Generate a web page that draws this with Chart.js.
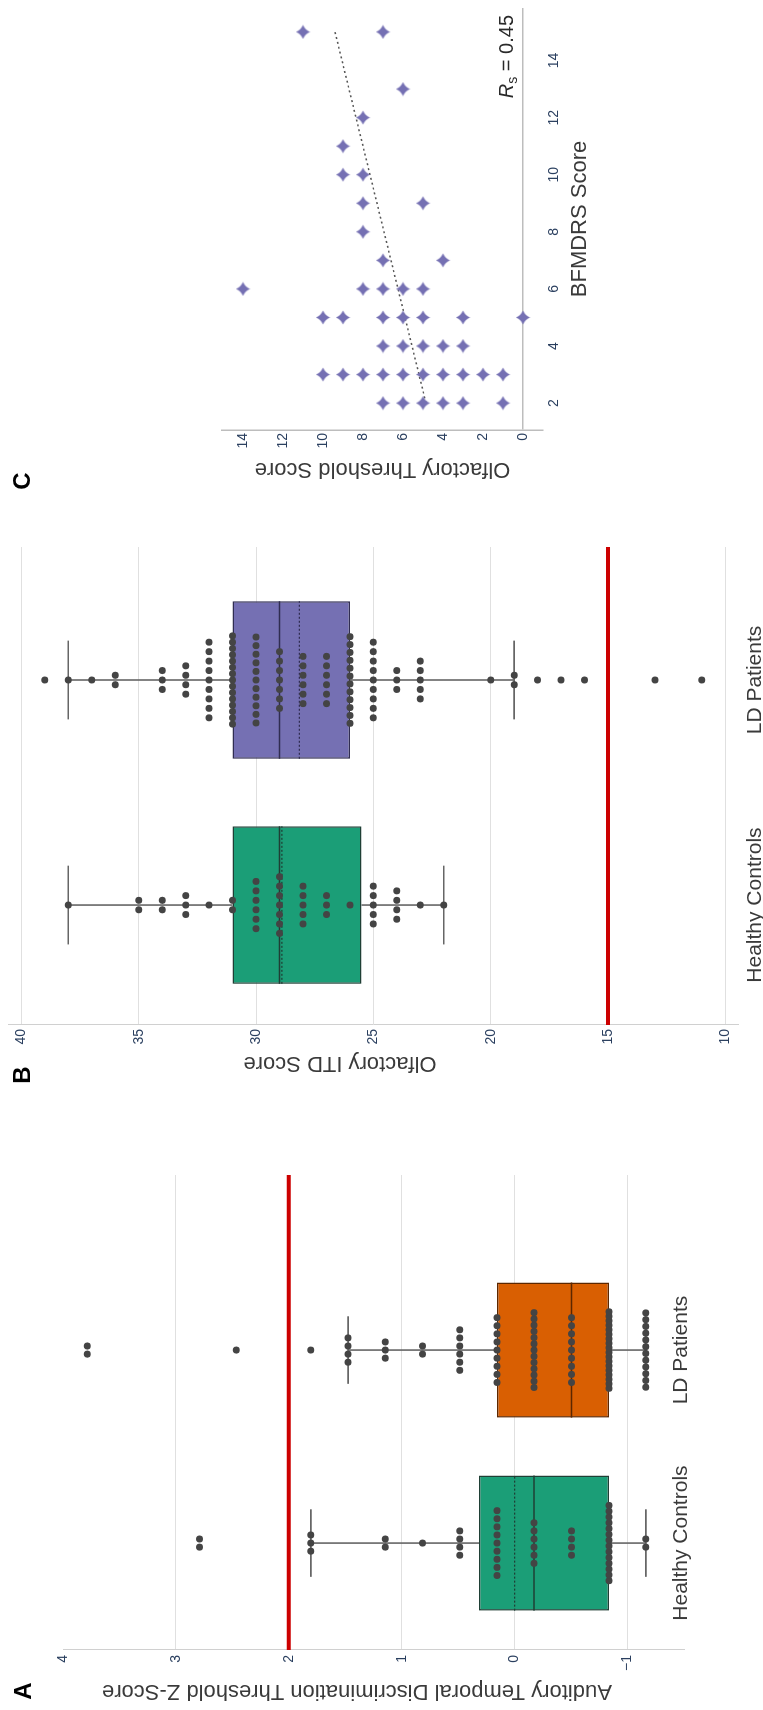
<!DOCTYPE html>
<html>
<head>
<meta charset="utf-8">
<script src="https://cdn.jsdelivr.net/npm/chart.js@4.4.0/dist/chart.umd.min.js"></script>
<style>
  html, body { margin: 0; padding: 0; background: #fff; width: 763px; height: 1710px; overflow: hidden; }
  /* the figure is laid out landscape and turned a quarter turn, like the reference */
  #figure { position: absolute; left: 0; top: 0; width: 1710px; height: 763px; background: #fff;
    transform-origin: 0 0; transform: translateY(1710px) rotate(-90deg);
    font-family: "Liberation Sans", Arial, Helvetica, sans-serif; }
  .panel { position: absolute; top: 0; height: 763px; }
  .panel canvas { display: block; }
  .letter { position: absolute; font-weight: bold; font-size: 24px; line-height: 24px; color: #000;
    transform: translate(-50%, -50%); }
  #rs { position: absolute; font-size: 20px; line-height: 20px; color: #2a2a2a; white-space: nowrap; }
  #rs sub { font-size: 14px; vertical-align: -4px; }
</style>
</head>
<body>
<div id="figure">
  <div class="panel" style="left:0;width:600px"><canvas id="chartA" width="600" height="763"></canvas></div>
  <div class="panel" style="left:600px;width:600px"><canvas id="chartB" width="600" height="763"></canvas></div>
  <div class="panel" style="left:1200px;width:510px"><canvas id="chartC" width="510" height="763"></canvas></div>
  <div class="letter" style="left:19px;top:23px">A</div>
  <div class="letter" style="left:635px;top:22px">B</div>
  <div class="letter" style="left:1229px;top:22px">C</div>
  <div id="rs" style="right:15px;top:496px"><i>R</i><sub>s</sub> = 0.45</div>
</div>
<script>
"use strict";

const groups = ['Healthy Controls', 'LD Patients'];

// A: auditory temporal discrimination threshold z-scores
const atdHealthy = [2.79, 2.79,
    1.805, 1.805, 1.805,
    1.147, 1.147,
    0.817,
    0.487, 0.487, 0.487, 0.487,
    0.157, 0.157, 0.157, 0.157, 0.157, 0.157, 0.157, 0.157, 0.157,
    -0.171, -0.171, -0.171, -0.171, -0.171, -0.171,
    -0.504, -0.504, -0.504, -0.504,
    -0.835, -0.835, -0.835, -0.835, -0.835, -0.835, -0.835, -0.835, -0.835, -0.835, -0.835, -0.835, -0.835, -0.835,
    -1.162, -1.162];
const atdLd = [3.785, 3.785,
    2.466,
    1.805,
    1.475, 1.475, 1.475, 1.475,
    1.147, 1.147, 1.147,
    0.817, 0.817,
    0.487, 0.487, 0.487, 0.487, 0.487, 0.487,
    0.157, 0.157, 0.157, 0.157, 0.157, 0.157, 0.157, 0.157, 0.157,
    -0.171, -0.171, -0.171, -0.171, -0.171, -0.171, -0.171, -0.171, -0.171, -0.171, -0.171, -0.171, -0.171,
    -0.504, -0.504, -0.504, -0.504, -0.504, -0.504, -0.504, -0.504, -0.504,
    -0.835, -0.835, -0.835, -0.835, -0.835, -0.835, -0.835, -0.835, -0.835, -0.835, -0.835, -0.835, -0.835, -0.835, -0.835, -0.835, -0.835, -0.835,
    -1.162, -1.162, -1.162, -1.162, -1.162, -1.162, -1.162, -1.162, -1.162, -1.162, -1.162, -1.162];
const atdQ1 = [-0.835, -0.835];
const atdMedian = [-0.171, -0.504];
const atdQ3 = [0.316, 0.157];
const atdMean = [0.0, null];
const atdLow = [-1.162, -1.162];
const atdHigh = [1.805, 1.475];
const atdCutoff = 2;
const atdTicks = [-1, 0, 1, 2, 3, 4];

// B: olfactory ITD scores
const itdHealthy = [38, 35, 35, 34, 34, 33, 33, 33, 32, 31, 31,
    30, 30, 30, 30, 30, 30,
    29, 29, 29, 29, 29, 29, 29,
    28, 28, 28, 28, 28,
    27, 27, 27, 26,
    25, 25, 25, 25, 25,
    24, 24, 24, 24, 23, 22];
const itdLd = [39, 38, 37, 36, 36, 34, 34, 34, 33, 33, 33, 33,
    32, 32, 32, 32, 32, 32, 32, 32, 32,
    31, 31, 31, 31, 31, 31, 31, 31, 31, 31, 31, 31, 31, 31, 31,
    30, 30, 30, 30, 30, 30, 30, 30, 30, 30, 30,
    29, 29, 29, 29, 29, 29, 29,
    28, 28, 28, 28, 28, 28,
    27, 27, 27, 27, 27, 27,
    26, 26, 26, 26, 26, 26, 26, 26, 26, 26, 26, 26,
    25, 25, 25, 25, 25, 25, 25, 25, 25,
    24, 24, 24, 23, 23, 23, 23, 23,
    20, 19, 19, 18, 17, 16, 13, 11];
const itdQ1 = [25.5, 26];
const itdMedian = [29, 29];
const itdQ3 = [31, 31];
const itdMean = [28.9, 28.15];
const itdLow = [22, 19];
const itdHigh = [38, 38];
const itdCutoff = 15;
const itdTicks = [10, 15, 20, 25, 30, 35, 40];

// C: BFMDRS score against olfactory threshold score (LD patients)
const bfmdrs = [2, 2, 2, 2, 2, 2,
    3, 3, 3, 3, 3, 3, 3, 3, 3, 3,
    4, 4, 4, 4, 4,
    5, 5, 5, 5, 5, 5, 5,
    6, 6, 6, 6, 6,
    7, 7, 8, 9, 9, 10, 10, 11, 12, 13, 15, 15];
const threshold = [7, 6, 5, 4, 3, 1,
    10, 9, 8, 7, 6, 5, 4, 3, 2, 1,
    7, 6, 5, 4, 3,
    10, 9, 7, 6, 5, 3, 0,
    14, 8, 7, 6, 5,
    7, 4, 8, 8, 5, 9, 8, 9, 8, 6, 11, 7];
const trendX = [2, 15];
const trendY = [4.85, 9.4];
const bfmdrsTicks = [2, 4, 6, 8, 10, 12, 14];
const thresholdTicks = [0, 2, 4, 6, 8, 10, 12, 14];

const TICK_COLOR = '#2a3f5f';
const TEXT_COLOR = '#3a3a3a';
const GRID_COLOR = '#e0e0e0';
const AXIS_COLOR = '#d0d0d0';
const DOT_COLOR = '#444444';
const WHISKER_COLOR = '#666666';
const CUTOFF_COLOR = '#cc0000';

Chart.defaults.font.family = '"Liberation Sans", Arial, Helvetica, sans-serif';
Chart.defaults.color = TICK_COLOR;

function fmt(v) {
    return v < 0 ? '\u2212' + Math.abs(v) : String(v);
}

// fixed axis box so the plot areas sit where the reference has them
function fixBox(size) {
    return function (scale) {
        if (scale.isHorizontal()) scale.height = size; else scale.width = size;
        scale.paddingTop = 0;
        scale.paddingBottom = 0;
        scale.paddingLeft = 0;
        scale.paddingRight = 0;
    };
}

function tickSetter(values) {
    return function (scale) {
        scale.ticks = values.map(v => ({value: v}));
    };
}

// points with the same value are spread sideways inside the box
function spread(values, center, halfWidth) {
    const counts = new Map();
    values.forEach(v => counts.set(v, (counts.get(v) || 0) + 1));
    const pts = [];
    counts.forEach((n, v) => {
        const w = halfWidth * Math.min(1, n / 10);
        for (let k = 0; k < n; k++) {
            pts.push({x: n === 1 ? center : center + w * (2 * (k + 0.5) / n - 1), y: v});
        }
    });
    return pts;
}

function lineSet(data, color, width, dash) {
    return {
        type: 'line',
        data: data,
        borderColor: color,
        borderWidth: width,
        borderDash: dash || [],
        pointRadius: 0,
        fill: false,
        spanGaps: false,
        tension: 0
    };
}

function boxPanel(id, d, L) {
    const datasets = [];
    datasets.push({
        type: 'scatter',
        data: spread(d.dots[0], 0, L.jitter).concat(spread(d.dots[1], 1, L.jitter)),
        pointRadius: 3.5,
        pointBackgroundColor: DOT_COLOR,
        pointBorderWidth: 0
    });
    groups.forEach((g, i) => {
        datasets.push(lineSet([{x: i - 0.35, y: d.median[i]}, {x: i + 0.35, y: d.median[i]}], L.edge[i], 1.6));
        if (d.mean[i] !== null) {
            datasets.push(lineSet([{x: i - 0.35, y: d.mean[i]}, {x: i + 0.35, y: d.mean[i]}], L.edge[i], 1.2, [2, 2]));
        }
    });
    datasets.push({
        type: 'bar',
        data: groups.map((g, i) => ({x: i, y: [d.q1[i], d.q3[i]]})),
        backgroundColor: L.fill,
        borderColor: L.edge,
        borderWidth: 1.5,
        borderSkipped: false,
        barPercentage: 0.7,
        categoryPercentage: 1
    });
    const whisk = [];
    groups.forEach((g, i) => {
        whisk.push({x: i, y: d.q3[i]}, {x: i, y: d.high[i]}, {x: i, y: null},
            {x: i - 0.175, y: d.high[i]}, {x: i + 0.175, y: d.high[i]}, {x: i, y: null},
            {x: i, y: d.q1[i]}, {x: i, y: d.low[i]}, {x: i, y: null},
            {x: i - 0.175, y: d.low[i]}, {x: i + 0.175, y: d.low[i]}, {x: i, y: null});
    });
    datasets.push(lineSet(whisk, WHISKER_COLOR, 1.6));
    datasets.push(lineSet([{x: L.xMin, y: d.cutoff}, {x: L.xMax, y: d.cutoff}], CUTOFF_COLOR, 4));

    return new Chart(document.getElementById(id), {
        type: 'scatter',
        data: {datasets: datasets},
        options: {
            responsive: false,
            animation: false,
            devicePixelRatio: 1,
            events: [],
            layout: {padding: {top: L.top, right: L.right, bottom: 0, left: 0}},
            plugins: {legend: {display: false}, tooltip: {enabled: false}},
            scales: {
                x: {
                    type: 'linear',
                    offset: false,
                    min: L.xMin,
                    max: L.xMax,
                    afterBuildTicks: tickSetter([0, 1]),
                    afterFit: fixBox(L.xHeight),
                    grid: {display: false, offset: false, drawTicks: false},
                    border: {display: false},
                    ticks: {
                        mirror: L.mirror,
                        padding: L.catPad,
                        maxRotation: 0,
                        autoSkip: false,
                        color: TEXT_COLOR,
                        font: {size: 21, lineHeight: 1.2},
                        callback: v => groups[v]
                    }
                },
                y: {
                    type: 'linear',
                    beginAtZero: false,
                    min: L.yMin,
                    max: L.yMax,
                    afterBuildTicks: tickSetter(d.ticks),
                    afterFit: fixBox(L.yWidth),
                    grid: {
                        drawTicks: false,
                        lineWidth: 1,
                        color: c => (c.tick && c.tick.value === L.noGrid) ? 'rgba(0,0,0,0)' : GRID_COLOR
                    },
                    border: {display: true, color: AXIS_COLOR, width: 1},
                    ticks: {padding: L.tickPad, color: TICK_COLOR, font: {size: 14, lineHeight: 1.2}, callback: fmt},
                    title: {
                        display: true,
                        // en spaces in front nudge the title toward the top, as in the reference
                        text: '\u2002'.repeat(L.titleNudge) + d.title,
                        color: TEXT_COLOR,
                        font: {size: 22, lineHeight: 1.2},
                        padding: {top: L.titlePad, bottom: 0}
                    }
                }
            }
        }
    });
}

boxPanel('chartA', {
    dots: [atdHealthy, atdLd],
    q1: atdQ1, median: atdMedian, q3: atdQ3, mean: atdMean, low: atdLow, high: atdHigh,
    cutoff: atdCutoff, ticks: atdTicks,
    title: 'Auditory Temporal Discrimination Threshold Z-Score'
}, {
    fill: ['#1b9e77', '#d95f02'], edge: ['#1f3f35', '#5c2700'],
    xMin: -0.554, xMax: 1.907, yMin: -1.5, yMax: 4, noGrid: 4,
    top: 63, right: 65, xHeight: 79, yWidth: 60,
    mirror: true, catPad: -10.2, tickPad: 5, titlePad: 5.8, titleNudge: 3, jitter: 0.21
});

boxPanel('chartB', {
    dots: [itdHealthy, itdLd],
    q1: itdQ1, median: itdMedian, q3: itdQ3, mean: itdMean, low: itdLow, high: itdHigh,
    cutoff: itdCutoff, ticks: itdTicks,
    title: 'Olfactory ITD Score'
}, {
    fill: ['#1b9e77', '#7570b3'], edge: ['#1f3f35', '#302d52'],
    xMin: -0.533, xMax: 1.591, yMin: 9.46, yMax: 40.57, noGrid: null,
    top: 8, right: 37, xHeight: 25, yWidth: 85,
    mirror: false, catPad: 5, tickPad: 4, titlePad: 33.8, titleNudge: 6, jitter: 0.21
});

// four-pointed star marker for panel C
function makeStar(size, color) {
    const c = document.createElement('canvas');
    c.width = size;
    c.height = size;
    const g = c.getContext('2d');
    const m = size / 2, R = size / 2 - 0.5, r = size * 0.14;
    g.fillStyle = color;
    g.beginPath();
    g.moveTo(m, m - R);
    g.quadraticCurveTo(m + r, m - r, m + R, m);
    g.quadraticCurveTo(m + r, m + r, m, m + R);
    g.quadraticCurveTo(m - r, m + r, m - R, m);
    g.quadraticCurveTo(m - r, m - r, m, m - R);
    g.closePath();
    g.fill();
    return c;
}

const star = makeStar(15, '#7570b3');

new Chart(document.getElementById('chartC'), {
    type: 'scatter',
    data: {
        datasets: [{
            type: 'scatter',
            data: bfmdrs.map((x, i) => ({x: x, y: threshold[i]})),
            pointStyle: star,
            pointRadius: 7
        }, lineSet(trendX.map((x, i) => ({x: x, y: trendY[i]})), '#555555', 1.5, [2, 3])]
    },
    options: {
        responsive: false,
        animation: false,
        devicePixelRatio: 1,
        events: [],
        layout: {padding: {top: 222, right: 5, bottom: 0, left: 0}},
        plugins: {legend: {display: false}, tooltip: {enabled: false}},
        scales: {
            x: {
                type: 'linear',
                min: 1.06,
                max: 15.84,
                afterBuildTicks: tickSetter(bfmdrsTicks),
                afterFit: fixBox(220),
                grid: {display: false, drawTicks: false},
                border: {display: false},
                ticks: {padding: 3, maxRotation: 0, color: TICK_COLOR, font: {size: 14, lineHeight: 1.2}},
                title: {
                    display: true,
                    text: 'BFMDRS Score',
                    color: TEXT_COLOR,
                    font: {size: 22, lineHeight: 1.2},
                    padding: {top: 0, bottom: 169.8}
                }
            },
            y: {
                type: 'linear',
                min: -1,
                max: 15.05,
                afterBuildTicks: tickSetter(thresholdTicks),
                afterFit: fixBox(80),
                grid: {
                    drawTicks: false,
                    lineWidth: 1.5,
                    color: c => (c.tick && c.tick.value === 0) ? '#bdbdbd' : 'rgba(0,0,0,0)'
                },
                border: {display: true, color: '#bdbdbd', width: 1.5},
                ticks: {padding: 3, color: TICK_COLOR, font: {size: 14, lineHeight: 1.2}},
                title: {
                    display: true,
                    text: 'Olfactory Threshold Score',
                    color: TEXT_COLOR,
                    font: {size: 22, lineHeight: 1.2},
                    padding: {top: 27.8, bottom: 0}
                }
            }
        }
    }
});
</script>
</body>
</html>
